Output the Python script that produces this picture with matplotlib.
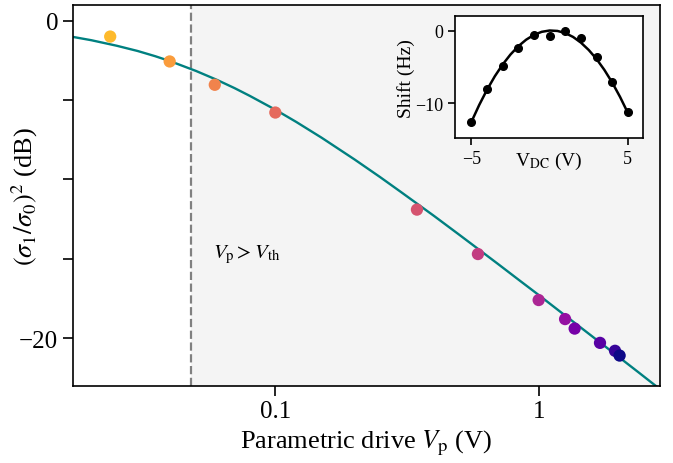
import matplotlib
matplotlib.use("Agg")
import matplotlib.pyplot as plt
import numpy as np

plt.rcParams['font.family'] = ['Liberation Serif', 'DejaVu Serif']
plt.rcParams['mathtext.fontset'] = 'stix'

# main panel: noise ratio vs parametric drive
drive_v = [0.0236, 0.0397, 0.0589, 0.100, 0.345, 0.588, 1.00, 1.26, 1.37, 1.71, 1.95, 2.03]
ratio_db = [-0.99, -2.56, -4.03, -5.78, -11.9, -14.7, -17.6, -18.8, -19.4, -20.3, -20.8, -21.1]

# fitted curve
fit_v = [0.017, 0.02, 0.025, 0.03, 0.035, 0.04, 0.05, 0.06, 0.07, 0.08, 0.1, 0.12,
         0.15, 0.2, 0.25, 0.3, 0.4, 0.5, 0.6, 0.7, 0.85, 1.0, 1.2, 1.5, 1.75, 2.0,
         2.4, 2.9]
fit_db = [-1.01, -1.22, -1.57, -1.90, -2.23, -2.55, -3.16, -3.72, -4.24, -4.73,
          -5.60, -6.37, -7.37, -8.74, -9.85, -10.79, -12.29, -13.49, -14.48,
          -15.32, -16.39, -17.28, -18.30, -19.54, -20.40, -21.15, -22.17, -23.24]

v_threshold = 0.048

# inset: frequency shift vs DC voltage
vdc = [-5, -4, -3, -2, -1, 0, 1, 2, 3, 4, 5]
shift_hz = [-12.6, -8.1, -4.8, -2.4, -0.6, -0.7, 0.0, -1.0, -3.6, -7.0, -11.25]
vdc_fit = [-5, -4.5, -4, -3.5, -3, -2.5, -2, -1.5, -1, -0.5, 0, 0.5, 1, 1.5, 2,
           2.5, 3, 3.5, 4, 4.5, 5]
shift_fit = [-12.58, -10.24, -8.14, -6.27, -4.65, -3.27, -2.13, -1.23, -0.56, -0.14,
             0.04, -0.02, -0.31, -0.85, -1.63, -2.65, -3.90, -5.40, -7.14, -9.12, -11.33]

fig = plt.figure(figsize=(6.73, 4.64), dpi=100)
ax = fig.add_axes([0.108, 0.1666, 0.8727, 0.8205])

ax.set_xscale('log')
ax.set_xlim(0.017, 2.89)
ax.set_ylim(-23, 1)

# shaded region above threshold
ax.axvspan(v_threshold, 10, color='#f4f4f4', zorder=0, lw=0)
ax.axvline(v_threshold, color='gray', ls='--', lw=1.6, zorder=1)

ax.plot(fit_v, fit_db, color='teal', lw=1.7, zorder=2)
colors = plt.cm.plasma(np.linspace(0.85, 0, len(drive_v)))
ax.scatter(drive_v, ratio_db, c=colors, s=78, zorder=3, edgecolors='none')

ax.text(0.058, -14.7, r'$V_\mathrm{p} > V_\mathrm{th}$', fontsize=15, va='center')

ax.set_xticks([0.1, 1])
ax.set_xticklabels(['0.1', '1'])
ax.xaxis.set_minor_locator(matplotlib.ticker.NullLocator())
ax.set_yticks([0, -5, -10, -15, -20])
ax.set_yticklabels(['0', '', '', '', '\u221220'])
ax.tick_params(labelsize=18, length=7, width=1.2)
for s in ax.spines.values():
    s.set_linewidth(1.2)

ax.set_xlabel(r'Parametric drive $V_\mathrm{p}$ (V)', fontsize=19)
ax.set_ylabel(r'$(\sigma_1/\sigma_0)^2$ (dB)', fontsize=19)
ax.yaxis.set_label_coords(-0.055, 0.5)

# inset
ins = fig.add_axes([0.676, 0.7004, 0.279, 0.2623])
ins.plot(vdc_fit, shift_fit, color='black', lw=1.8)
ins.plot(vdc, shift_hz, 'o', color='black', ms=5.5)
ins.set_xlim(-6.05, 5.95)
ins.set_ylim(-14.8, 2)
ins.set_xticks([-5, 5])
ins.set_xticklabels(['\u22125', '5'])
ins.set_yticks([0, -10])
ins.set_yticklabels(['0', '\u221210'])
ins.tick_params(labelsize=13, length=5, width=1.2)
for s in ins.spines.values():
    s.set_linewidth(1.2)
ins.set_xlabel(r'V$_\mathrm{DC}$ (V)', fontsize=14, labelpad=-12)
ins.set_ylabel('Shift (Hz)', fontsize=14, labelpad=0)

fig.savefig('out.png', dpi=100)
